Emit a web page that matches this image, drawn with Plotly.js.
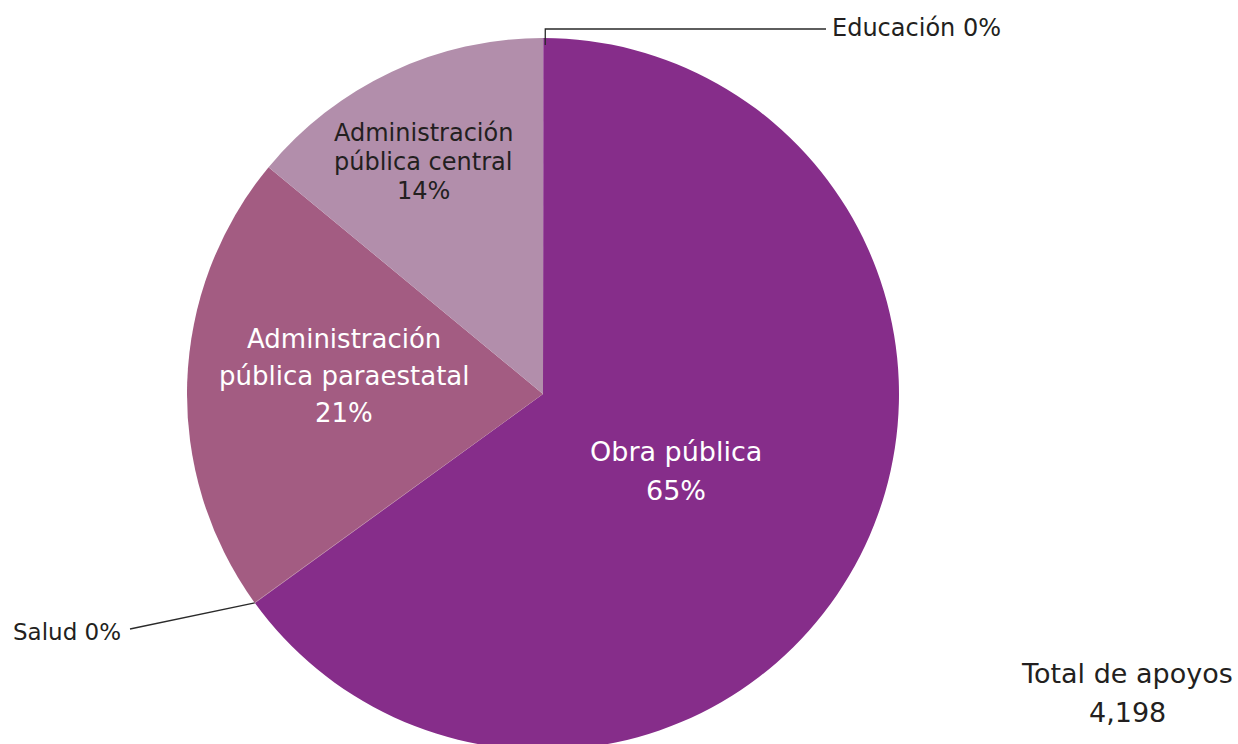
<!DOCTYPE html>
<html>
<head>
<meta charset="utf-8">
<script src="https://cdn.plot.ly/plotly-3.0.1.min.js"></script>
<style>
html,body{margin:0;padding:0;overflow:hidden;background:#fff;}
#chart{width:1238px;height:788px;}
</style>
</head>
<body>
<div id="chart"></div>
<script>
// ---- data ----
var labels = ["Educación", "Obra pública", "Salud", "Administración pública paraestatal", "Administración pública central"];
var values = [1, 2728, 1, 880, 588];
var colors = ["#862D8A", "#862D8A", "#A35C82", "#A35C82", "#B28EAB"];
var totalLabel = "Total de apoyos";
var total = values.reduce(function(a,b){return a+b;},0);

// ---- geometry ----
var W = 1238, H = 788;
var cx = 543, cy = 394, R = 356;
function px(x, y){ return {x: x / W, y: 1 - y / H}; }
function pct(i){ return Math.round(values[i] / total * 100) + "%"; }
function fmt(n){ return n.toString().replace(/\B(?=(\d{3})+(?!\d))/g, ","); }
function sliceAngle(i, f){
  var cum = 0; for (var k = 0; k < i; k++) cum += values[k];
  return (cum + values[i] * f) / total * 2 * Math.PI;
}
function edgePoint(i, f){
  var a = sliceAngle(i, f);
  return {x: cx + R * Math.sin(a), y: cy - R * Math.cos(a)};
}

var dark = "#231F20";
var font = "'DejaVu Sans', 'Open Sans', sans-serif";
var annotations = [];
function addLines(text, x, y0, dy, size, color){
  var lines = text.split("<br>");
  lines.forEach(function(t, j){
    var p = px(x, y0 + j * dy);
    annotations.push({xref:"paper", yref:"paper", x:p.x, y:p.y, text:t, showarrow:false,
      xanchor:"center", yanchor:"middle", font:{family:font, size:size, color:color}});
  });
}
function breakAdmin(s){ return s.replace("Administración ", "Administración<br>"); }

addLines(labels[1] + "<br>" + pct(1), 676, 451, 39, 27, "#ffffff");
addLines(breakAdmin(labels[3]) + "<br>" + pct(3), 344, 339, 37, 26, "#ffffff");
addLines(breakAdmin(labels[4]) + "<br>" + pct(4), 423, 133, 29, 24, dark);
addLines(totalLabel + "<br>" + fmt(total), 1127, 673, 39, 27, dark);

// outside labels with leader lines
var eduPt = edgePoint(0, 0.5);
var pe = px(830, 28);
annotations.push({xref:"paper", yref:"paper", x:pe.x, y:pe.y, text: labels[0] + " " + pct(0),
  showarrow:false, xanchor:"left", yanchor:"middle", font:{family:font, size:24, color:dark}});
var saludPt = edgePoint(2, 0.5);
var ps = px(11, 632);
annotations.push({xref:"paper", yref:"paper", x:ps.x, y:ps.y, text: labels[2] + " " + pct(2),
  showarrow:false, xanchor:"left", yanchor:"middle", font:{family:font, size:23, color:dark}});

function P(x,y){ var p = px(x,y); return p.x + "," + p.y; }
var shapes = [
  {type:"path", xref:"paper", yref:"paper",
   path:"M" + P(eduPt.x + 2, eduPt.y + 7) + " L" + P(eduPt.x + 2, 29) + " L" + P(826, 29),
   line:{color:"#2a2a2a", width:1.3}},
  {type:"path", xref:"paper", yref:"paper",
   path:"M" + P(saludPt.x, saludPt.y) + " L" + P(130, 629),
   line:{color:"#2a2a2a", width:1.3}}
];

var trace = {
  type: "pie",
  labels: labels,
  values: values,
  sort: false,
  direction: "clockwise",
  rotation: 0,
  marker: {colors: colors, line: {width: 0}},
  textinfo: "none",
  hoverinfo: "label+percent",
  domain: {x: [(cx - R) / W, (cx + R) / W], y: [0, 1]},
  showlegend: false
};

Plotly.newPlot("chart", [trace], {
  width: W, height: H,
  margin: {l:0, r:0, t:0, b:0},
  paper_bgcolor: "#ffffff",
  showlegend: false,
  annotations: annotations,
  shapes: shapes
}, {displayModeBar: false, staticPlot: true});
</script>
</body>
</html>
